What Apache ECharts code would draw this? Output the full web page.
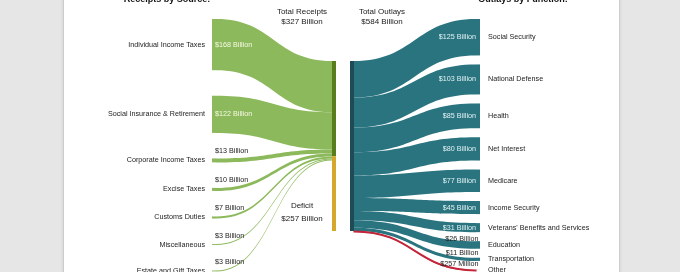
<!DOCTYPE html>
<html><head><meta charset="utf-8">
<script src="https://cdn.jsdelivr.net/npm/echarts@6/dist/echarts.min.js"></script>
<style>
html,body{margin:0;padding:0;background:#e6e6e6;width:680px;height:272px;overflow:hidden;}
#page{position:absolute;left:63px;top:0;width:555px;height:272px;background:#fff;border-left:1px solid #cdcdcd;border-right:1px solid #cdcdcd;box-shadow:0 0 3px rgba(0,0,0,0.12);}
#chart{position:absolute;left:0;top:0;width:680px;height:272px;}
</style></head><body><div id="page"></div><div id="chart"></div>
<script>
// ---------- data ----------
const sourceNames = ['Individual Income Taxes','Social Insurance & Retirement','Corporate Income Taxes','Excise Taxes','Customs Duties','Miscellaneous','Estate and Gift Taxes'];
const sourceValues = [168,122,13,10,7,3,3];
const functionNames = ['Social Security','National Defense','Health','Net Interest','Medicare','Income Security',"Veterans' Benefits and Services",'Education','Transportation','Other'];
const functionValues = [125,103,85,80,77,45,31,26,11,0.257];
const hubNames = ['Total Receipts','Deficit','Total Outlays'];
const hubValues = [327,257,584];
const sectionTitles = ['Receipts by Source:','Outlays by Function:'];

// ---------- layout & style ----------
const FONT = '"Liberation Sans", Arial, sans-serif';
const FS = 7.2;
const C = { src:'#8cb95b', olive:'#5a7d1c', gold:'#d5a82b', hub:'#1f4b56', teal:'#2a7480', red:'#c3263a', text:'#222' };
const LB = { left:212, top:19, width:124, height:252.4, gap:25.5 };
const MB = { left:332, top:61, width:22, height:170 };
const RB = { left:350, top:19, width:130, height:251, gap:9 };
const NW = 4;

function fmt(v){ return v >= 1 ? '$' + v + ' Billion' : '$' + Math.round(v*1000) + ' Million'; }

function baseSeries(box, gap){
  return { type:'sankey', left:box.left, top:box.top, width:box.width, height:box.height,
    nodeWidth:NW, nodeGap:gap, layoutIterations:0, draggable:false, silent:true,
    emphasis:{disabled:true}, animation:false };
}

function leftSeries(ghost){
  const data = sourceNames.map((n,i)=>({
    name:n,
    itemStyle:{ color: ghost ? 'transparent' : C.src, borderWidth:0 },
    label: ghost ? {
      show:true, position:'insideLeft', distance:3, formatter:fmt(sourceValues[i]),
      color: sourceValues[i] >= 50 ? 'rgba(255,255,240,0.93)' : C.text,
      offset: sourceValues[i] >= 50 ? [0,0] : [0,-9], fontSize:FS, fontFamily:FONT
    } : { show:true, position:'left', distance:7, formatter:'{b}', color:C.text, fontSize:FS, fontFamily:FONT }
  }));
  data.push({ name:hubNames[0], itemStyle:{color:'transparent', borderWidth:0}, label:{show:false},
    localY:(MB.top - LB.top)/LB.height });
  const links = sourceNames.map((n,i)=>({ source:n, target:hubNames[0], value:sourceValues[i] }));
  return Object.assign(baseSeries(LB, LB.gap), { data, links,
    lineStyle: ghost ? {opacity:0} : {color:C.src, opacity:1, curveness:0.5} });
}

function rightSeries(ghost){
  const data = [{ name:hubNames[2], itemStyle:{color:'transparent', borderWidth:0}, label:{show:false},
    localY:(MB.top - RB.top)/RB.height }];
  functionNames.forEach((n,i)=>{
    const v = functionValues[i];
    data.push({ name:n,
      itemStyle:{ color: ghost ? 'transparent' : C.teal, borderWidth:0 },
      label: ghost ? {
        show:true, position:'insideRight', distance: v >= 30 ? 4 : 1.5, formatter:fmt(v),
        color: v >= 30 ? 'rgba(235,250,250,0.95)' : C.text,
        offset: v >= 30 ? [0,0] : [0,-6], fontSize:FS, fontFamily:FONT
      } : { show:true, position:'right', distance:8, formatter:'{b}', color:C.text, fontSize:FS, fontFamily:FONT }
    });
  });
  const links = functionNames.map((n,i)=>{
    const l = { source:hubNames[2], target:n, value:functionValues[i] };
    if (functionValues[i] < 1 && !ghost) l.lineStyle = { color:C.red, borderColor:C.red, borderWidth:1.1, opacity:1 };
    return l;
  });
  return Object.assign(baseSeries(RB, RB.gap), { data, links,
    lineStyle: ghost ? {opacity:0} : {color:C.teal, opacity:1, curveness:0.5} });
}

function midSeries(){
  const lbl = (pos)=>({ show:true, position:pos, align:'center', verticalAlign:'middle',
    color:C.text, fontSize:8, lineHeight:9.5, fontFamily:FONT });
  const data = [
    { name:hubNames[0], itemStyle:{color:C.olive, borderWidth:0},
      label:Object.assign(lbl([-30,-44]), { formatter: hubNames[0] + '\n' + fmt(hubValues[0]) }) },
    { name:hubNames[1], itemStyle:{color:C.gold, borderWidth:0},
      label:Object.assign(lbl([-30,56]), { formatter: hubNames[1] + '\n' + fmt(hubValues[1]), lineHeight:13 }) },
    { name:hubNames[2], itemStyle:{color:C.hub, borderWidth:0},
      label:Object.assign(lbl([32,-44]), { formatter: hubNames[2] + '\n' + fmt(hubValues[2]) }) }
  ];
  const links = [
    { source:hubNames[0], target:hubNames[2], value:hubValues[0] },
    { source:hubNames[1], target:hubNames[2], value:hubValues[1] }
  ];
  return Object.assign(baseSeries(MB, 0), { data, links, lineStyle:{opacity:0} });
}

const chart = echarts.init(document.getElementById('chart'), null, {renderer:'canvas'});
chart.setOption({
  backgroundColor:'transparent',
  animation:false,
  graphic:[
    { type:'text', x:167, y:-0.5, style:{ text:sectionTitles[0], fontSize:9, fontWeight:'bold', fontFamily:FONT, fill:'#111', align:'center', verticalAlign:'middle' } },
    { type:'text', x:523, y:-0.5, style:{ text:sectionTitles[1], fontSize:9, fontWeight:'bold', fontFamily:FONT, fill:'#111', align:'center', verticalAlign:'middle' } }
  ],
  series:[ leftSeries(false), rightSeries(false), midSeries(), leftSeries(true), rightSeries(true) ]
});
</script></body></html>
